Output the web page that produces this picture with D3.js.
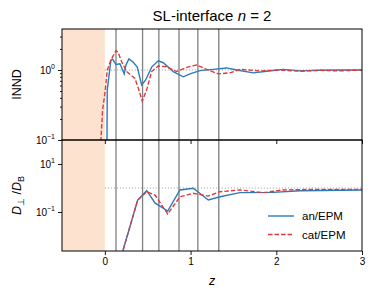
<!DOCTYPE html>
<html>
<head>
<meta charset="utf-8">
<script src="https://cdn.jsdelivr.net/npm/d3@7"></script>
<style>
  body { margin: 0; background: #fff; }
  svg { font-family: "Liberation Sans", Arial, sans-serif; }
</style>
</head>
<body>
<div id="chart"></div>
<script>
// INND (top panel)
const anTopZ = [0.021, 0.028, 0.071, 0.091, 0.13, 0.176, 0.226, 0.246, 0.281, 0.331, 0.378, 0.429, 0.476, 0.546, 0.623, 0.681, 0.798, 0.915, 0.993, 1.11, 1.265, 1.42, 1.54, 1.73, 1.89, 2.08, 2.28, 2.51, 2.74, 3.0];
const anTopV = [0.02, 0.52, 1.39, 1.42, 1.2, 1.23, 0.88, 1.18, 1.44, 1.29, 1.1, 0.61, 0.72, 1.1, 1.35, 1.27, 0.95, 0.80, 0.88, 0.98, 1.02, 1.07, 1.0, 0.91, 0.96, 1.02, 0.97, 0.99, 1.0, 1.0];
const catTopZ = [-0.06, -0.046, -0.026, 0.001, 0.028, 0.071, 0.13, 0.156, 0.196, 0.254, 0.351, 0.39, 0.436, 0.488, 0.546, 0.623, 0.721, 0.838, 0.973, 1.071, 1.188, 1.323, 1.46, 1.576, 1.81, 2.04, 2.28, 2.51, 2.74, 3.0];
const catTopV = [0.05, 0.1, 0.27, 0.47, 1.0, 1.39, 1.89, 1.77, 1.31, 0.95, 0.76, 0.55, 0.36, 0.52, 0.95, 1.14, 1.11, 0.95, 1.11, 1.18, 1.02, 0.88, 0.91, 1.02, 0.97, 1.0, 0.96, 0.99, 0.97, 1.0];

// D_perp / D_B (bottom panel)
const anBotZ = [0.13, 0.383, 0.488, 0.585, 0.733, 0.876, 1.032, 1.207, 1.343, 1.576, 1.965, 2.277, 3.0];
const anBotV = [0.00025, 0.316, 0.77, 0.24, 0.11, 0.83, 0.97, 0.316, 0.43, 0.64, 0.66, 0.77, 0.83];
const catBotZ = [0.13, 0.383, 0.488, 0.585, 0.733, 0.876, 1.032, 1.207, 1.343, 1.576, 1.85, 2.08, 2.47, 3.0];
const catBotV = [0.00025, 0.316, 0.70, 0.51, 0.083, 0.43, 0.60, 0.46, 0.70, 0.83, 0.64, 0.83, 0.88, 0.88];

// interface layer positions
const layerZ = [0.13, 0.44, 0.63, 0.865, 1.085, 1.33];
const xTicks = [0, 1, 2, 3];
const seriesNames = ["an/EPM", "cat/EPM"];

const W = 375, H = 299;
const left = 62, right = 362;
const topPanel = { y0: 29, y1: 140 };
const botPanel = { y0: 140, y1: 251 };

const blue = "#2b7bba", red = "#e0393b";

const svg = d3.select("#chart").append("svg")
    .attr("width", W).attr("height", H);

const x = d3.scaleLinear().domain([-0.5, 3]).range([left, right]);
const yTop = d3.scaleLog().domain([0.1, 3.85]).range([topPanel.y1, topPanel.y0]);
const yBot = d3.scaleLog().domain([Math.pow(10, -2.625), 100]).range([botPanel.y1, botPanel.y0]);

function sup(sel, exp) {
  sel.text(null);
  sel.append("tspan").text("10");
  sel.append("tspan").attr("dy", -4.5).attr("font-size", 7).text(exp);
}

function panel(p, y, id) {
  const g = svg.append("g");
  g.append("clipPath").attr("id", id)
    .append("rect").attr("x", left).attr("y", p.y0).attr("width", right - left).attr("height", p.y1 - p.y0);

  g.append("rect")
    .attr("x", x(-0.5)).attr("y", p.y0)
    .attr("width", x(0) - x(-0.5)).attr("height", p.y1 - p.y0)
    .attr("fill", "#fde3cf");

  g.selectAll(".layer").data(layerZ).enter().append("line")
    .attr("x1", d => x(d)).attr("x2", d => x(d))
    .attr("y1", p.y0).attr("y2", p.y1)
    .attr("stroke", (d, i) => i === layerZ.length - 1 ? "#555" : "#808080")
    .attr("stroke-width", (d, i) => i === layerZ.length - 1 ? 1 : 1.3);

  g.append("line")
    .attr("x1", x(0)).attr("x2", x(3))
    .attr("y1", y(1)).attr("y2", y(1))
    .attr("stroke", "#999").attr("stroke-width", 1)
    .attr("stroke-dasharray", "1,2");
  return g;
}

function drawLines(g, y, id, az, av, cz, cv) {
  const line = d3.line().x(d => x(d[0])).y(d => y(d[1]));
  const lines = g.append("g").attr("clip-path", `url(#${id})`);
  lines.append("path").datum(d3.zip(az, av))
    .attr("d", line).attr("fill", "none")
    .attr("stroke", blue).attr("stroke-width", 1.4);
  lines.append("path").datum(d3.zip(cz, cv))
    .attr("d", line).attr("fill", "none")
    .attr("stroke", red).attr("stroke-width", 1.4)
    .attr("stroke-dasharray", "4.5,2");
}

const gTop = panel(topPanel, yTop, "clipTop");
drawLines(gTop, yTop, "clipTop", anTopZ, anTopV, catTopZ, catTopV);
const gBot = panel(botPanel, yBot, "clipBot");
drawLines(gBot, yBot, "clipBot", anBotZ, anBotV, catBotZ, catBotV);

// axes
const minorTop = [0.2, 0.3, 0.4, 0.5, 0.6, 0.7, 0.8, 0.9, 2, 3];
svg.append("g").attr("transform", `translate(${left},0)`)
  .call(d3.axisLeft(yTop).tickValues(minorTop).tickSize(2).tickFormat(""))
  .call(g => g.select(".domain").remove());
svg.append("g").attr("transform", `translate(${left},0)`)
  .call(d3.axisLeft(yTop).tickValues([0.1, 1]).tickSize(4).tickPadding(3))
  .call(g => g.select(".domain").remove())
  .call(g => g.selectAll("text").attr("font-size", 10).attr("font-family", null)
    .each(function(d) { sup(d3.select(this), d === 1 ? "0" : "\u22121"); }));

svg.append("g").attr("transform", `translate(${left},0)`)
  .call(d3.axisLeft(yBot).tickValues([0.1, 10]).tickSize(4).tickPadding(3))
  .call(g => g.select(".domain").remove())
  .call(g => g.selectAll("text").attr("font-size", 10).attr("font-family", null)
    .each(function(d) { sup(d3.select(this), d === 10 ? "1" : "\u22121"); }));

svg.append("g").attr("transform", `translate(0,${topPanel.y1})`)
  .call(d3.axisBottom(x).tickValues(xTicks).tickSize(4).tickFormat(""))
  .call(g => g.select(".domain").remove());
svg.append("g").attr("transform", `translate(0,${botPanel.y1})`)
  .call(d3.axisBottom(x).tickValues(xTicks).tickSize(4).tickPadding(3).tickFormat(d3.format("d")))
  .call(g => g.select(".domain").remove())
  .call(g => g.selectAll("text").attr("font-size", 10).attr("font-family", null));

svg.selectAll(".tick line").attr("stroke", "#000").attr("stroke-width", 0.9);

// frames
[topPanel, botPanel].forEach(p => {
  svg.append("rect")
    .attr("x", left).attr("y", p.y0)
    .attr("width", right - left).attr("height", p.y1 - p.y0)
    .attr("fill", "none").attr("stroke", "#000").attr("stroke-width", 1);
});

// title and labels
const title = svg.append("text").attr("x", (left + right) / 2).attr("y", 20.5)
  .attr("text-anchor", "middle").attr("font-size", 15);
title.append("tspan").text("SL-interface ");
title.append("tspan").attr("font-style", "italic").text("n");
title.append("tspan").text(" = 2");

svg.append("text")
  .attr("transform", `translate(21,${(topPanel.y0 + topPanel.y1) / 2}) rotate(-90)`)
  .attr("text-anchor", "middle").attr("font-size", 12.5).text("INND");

const yl = svg.append("text")
  .attr("transform", `translate(21,${(botPanel.y0 + botPanel.y1) / 2}) rotate(-90)`)
  .attr("text-anchor", "middle").attr("font-size", 12.5);
yl.append("tspan").attr("font-style", "italic").text("D");
yl.append("tspan").attr("dy", 3).attr("font-size", 9).text("\u22a5");
yl.append("tspan").attr("dy", -3).text(" /");
yl.append("tspan").attr("font-style", "italic").text("D");
yl.append("tspan").attr("dy", 3).attr("font-size", 9).text("B");

svg.append("text").attr("x", (left + right) / 2).attr("y", 285)
  .attr("text-anchor", "middle").attr("font-size", 12.5).attr("font-style", "italic").text("z");

// legend
const legend = svg.append("g");
seriesNames.forEach((name, i) => {
  const ly = 216 + i * 18.5;
  legend.append("line")
    .attr("x1", 268).attr("x2", 294).attr("y1", ly).attr("y2", ly)
    .attr("stroke", i === 0 ? blue : red).attr("stroke-width", 1.4)
    .attr("stroke-dasharray", i === 0 ? null : "4.5,2");
  legend.append("text").attr("x", 302).attr("y", ly).attr("dy", "0.36em")
    .attr("font-size", 11.5).text(name);
});
</script>
</body>
</html>
